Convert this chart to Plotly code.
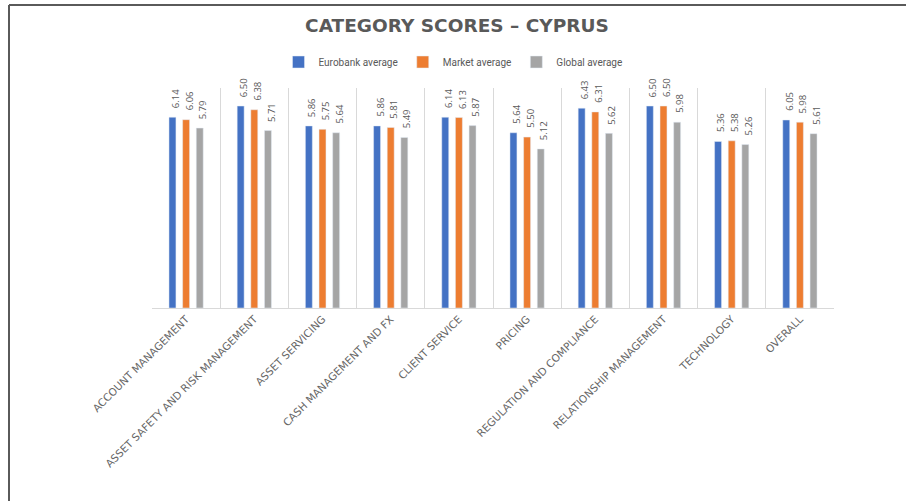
import plotly.graph_objects as go

categories = ["ACCOUNT MANAGEMENT", "ASSET SAFETY AND RISK MANAGEMENT", "ASSET SERVICING",
              "CASH MANAGEMENT AND FX", "CLIENT SERVICE", "PRICING",
              "REGULATION AND COMPLIANCE", "RELATIONSHIP MANAGEMENT", "TECHNOLOGY", "OVERALL"]
eurobank = [6.14, 6.50, 5.86, 5.86, 6.14, 5.64, 6.43, 6.50, 5.36, 6.05]
market = [6.06, 6.38, 5.75, 5.81, 6.13, 5.50, 6.31, 6.50, 5.38, 5.98]
global_avg = [5.79, 5.71, 5.64, 5.49, 5.87, 5.12, 5.62, 5.98, 5.26, 5.61]

series = [("Eurobank average", eurobank, "#4472C4"),
          ("Market average", market, "#ED7D31"),
          ("Global average", global_avg, "#A5A5A5")]

W, H = 906, 501
L, R, T, B = 152, 72, 88, 193
pw, ph = W - L - R, H - T - B

fig = go.Figure()
annotations = []
slot = pw / len(categories) * (1 - 0.4) / 3
for i, (name, vals, col) in enumerate(series):
    fig.add_trace(go.Bar(x=categories, y=vals, name=name, marker_color=col))
    for c, v in zip(categories, vals):
        annotations.append(dict(
            x=c, y=v, xref="x", yref="y", text=f"{v:.2f}", showarrow=False,
            textangle=-90, xanchor="center", yanchor="bottom",
            xshift=(i - 1) * slot + 3, yshift=7,
            font=dict(family="Open Sans", size=9.5, color="#595959"),
        ))

def px_x(p):
    return (p - L) / pw

def px_y(p):
    return (H - B - p) / ph

frame = dict(color="#5a5a5a", width=2)
shapes = [
    dict(type="line", xref="paper", yref="paper", x0=px_x(9), x1=px_x(W), y0=px_y(5), y1=px_y(5), line=frame),
    dict(type="line", xref="paper", yref="paper", x0=px_x(9), x1=px_x(9), y0=px_y(5), y1=px_y(H), line=frame),
]

fig.update_layout(
    width=W, height=H,
    margin=dict(l=L, r=R, t=T, b=B, autoexpand=False),
    paper_bgcolor="white", plot_bgcolor="white",
    barmode="group", bargap=0.4, bargroupgap=0.49,
    title=dict(text="<b>CATEGORY SCORES – CYPRUS</b>", x=457 / W, xanchor="center",
               y=1 - 26 / H, yanchor="middle",
               font=dict(family="DejaVu Sans", size=18.5, color="#595959")),
    legend=dict(orientation="h", xref="container", yref="container",
                x=0.5, xanchor="center", y=1 - 62 / H, yanchor="middle",
                font=dict(family="Roboto", size=10, color="#595959"),
                itemwidth=30),
    xaxis=dict(tickangle=-45, tickson="boundaries", showgrid=True, gridcolor="#d9d9d9",
               gridwidth=1, showline=True, linecolor="#d9d9d9",
               ticks="outside", ticklen=8, tickcolor="rgba(0,0,0,0)",
               tickfont=dict(family="DejaVu Sans", size=10.5, color="#666666")),
    yaxis=dict(range=[0, 7.08], showgrid=False, showticklabels=False, zeroline=False,
               showline=False),
    shapes=shapes,
    annotations=annotations,
    showlegend=True,
)

fig.write_html("out.html", config={"displayModeBar": False},
               post_script="document.body.style.margin='0';")
